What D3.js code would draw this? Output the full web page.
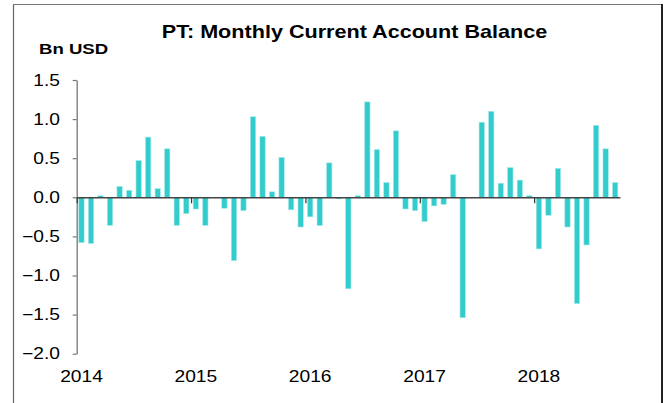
<!DOCTYPE html>
<html>
<head>
<meta charset="utf-8">
<script src="https://cdn.jsdelivr.net/npm/d3@7"></script>
<style>
  html, body { margin: 0; padding: 0; background: #fff; }
  svg { display: block; font-family: "Liberation Sans", Arial, sans-serif; }
</style>
</head>
<body>
<div id="chart"></div>
<script>
// Data: Portugal monthly current account balance, Bn USD (Jan 2014 - Sep 2018)
const years = [2014, 2015, 2016, 2017, 2018];
const monthNames = ["Jan", "Feb", "Mar", "Apr", "May", "Jun", "Jul", "Aug", "Sep", "Oct", "Nov", "Dec"];
const values = [
    -0.58, -0.59, 0.02, -0.36, 0.14, 0.09, 0.47, 0.77, 0.11, 0.62, -0.36, -0.21,
    -0.15, -0.36, 0.00, -0.14, -0.81, -0.17, 1.03, 0.78, 0.07, 0.51, -0.16, -0.38,
    -0.25, -0.36, 0.44, -0.02, -1.17, 0.02, 1.22, 0.61, 0.19, 0.85, -0.15, -0.17,
    -0.31, -0.11, -0.09, 0.29, -1.54, 0.00, 0.96, 1.10, 0.18, 0.38, 0.22, 0.02,
    -0.66, -0.23, 0.37, -0.38, -1.36, -0.61, 0.92, 0.62, 0.19
];
const yTicks = [-2.0, -1.5, -1.0, -0.5, 0.0, 0.5, 1.0, 1.5];

const months = years.flatMap(y => monthNames.map(m => `${m} ${y}`)).slice(0, values.length);
const data = months.map((m, i) => ({ month: m, value: values[i] }));

const width = 669;
const height = 403;
const sx = 1.2; // source picture is stretched horizontally

const svg = d3.select("#chart")
    .append("svg")
    .attr("width", width)
    .attr("height", height);

// frame
svg.append("line")
    .attr("x1", 13.5).attr("x2", 13.5).attr("y1", 4).attr("y2", height)
    .attr("stroke", "#666").attr("stroke-width", 1.2);
svg.append("line")
    .attr("x1", 13).attr("x2", 663).attr("y1", 4.5).attr("y2", 4.5)
    .attr("stroke", "#777").attr("stroke-width", 1.2);
svg.append("line")
    .attr("x1", 662).attr("x2", 662).attr("y1", 4).attr("y2", height)
    .attr("stroke", "#222").attr("stroke-width", 2);

const xScale = d3.scaleBand()
    .domain(months)
    .range([76.7, 76.7 + 57 * 9.53])
    .paddingInner(0)
    .paddingOuter(0);

const xLin = d3.scaleLinear()
    .domain([0, months.length])
    .range(xScale.range());

const yScale = d3.scaleLinear()
    .domain([-2, 1.5])
    .range([353.7, 80]);

const barW = xScale.bandwidth() * 0.56;

// bars
svg.append("g")
    .selectAll("rect")
    .data(data)
    .enter()
    .append("rect")
    .attr("x", d => xScale(d.month) + (xScale.bandwidth() - barW) / 2)
    .attr("y", d => yScale(Math.max(0, d.value)))
    .attr("width", barW)
    .attr("height", d => Math.abs(yScale(d.value) - yScale(0)))
    .attr("fill", "#33cccc")
    .attr("stroke", "#a8eaea")
    .attr("stroke-width", 0.6);

// y axis
const yAxis = svg.append("g")
    .attr("transform", "translate(76.7,0)")
    .call(d3.axisLeft(yScale)
        .tickValues(yTicks)
        .tickSize(4)
        .tickSizeOuter(0)
        .tickPadding(10)
        .tickFormat(d3.format(".1f")));
yAxis.select(".domain").attr("stroke", "#777").attr("stroke-width", 1.3);
yAxis.selectAll(".tick line").attr("stroke", "#777").attr("stroke-width", 1.2);
yAxis.selectAll(".tick text")
    .attr("fill", "#000")
    .attr("font-size", "16px")
    .attr("font-family", "Liberation Sans, Arial, sans-serif")
    .attr("transform", `scale(${sx},1)`);

// x axis on the zero line
const xAxis = svg.append("g")
    .attr("transform", `translate(0,${yScale(0)})`)
    .call(d3.axisBottom(xLin)
        .tickValues(years.map((y, i) => i * 12))
        .tickSize(6)
        .tickSizeOuter(0)
        .tickFormat(""));
xAxis.select(".domain").attr("stroke", "#444").attr("stroke-width", 1.6);
xAxis.selectAll(".tick line").attr("stroke", "#333").attr("stroke-width", 1.2);

// year labels
svg.append("g")
    .selectAll("text")
    .data(years)
    .enter()
    .append("text")
    .attr("transform", (d, i) => `translate(${xLin(i * 12 + 0.5)},382) scale(${sx},1)`)
    .attr("text-anchor", "middle")
    .attr("font-size", "16px")
    .attr("fill", "#000")
    .text(d => d);

// title and unit
svg.append("text")
    .attr("transform", `translate(354.5,38.3) scale(${sx},1)`)
    .attr("text-anchor", "middle")
    .attr("font-size", "18px")
    .attr("font-weight", "bold")
    .attr("fill", "#000")
    .text("PT: Monthly Current Account Balance");

svg.append("text")
    .attr("transform", `translate(39,53.5) scale(${sx},1)`)
    .attr("font-size", "15.5px")
    .attr("font-weight", "bold")
    .attr("fill", "#000")
    .text("Bn USD");
</script>
</body>
</html>
